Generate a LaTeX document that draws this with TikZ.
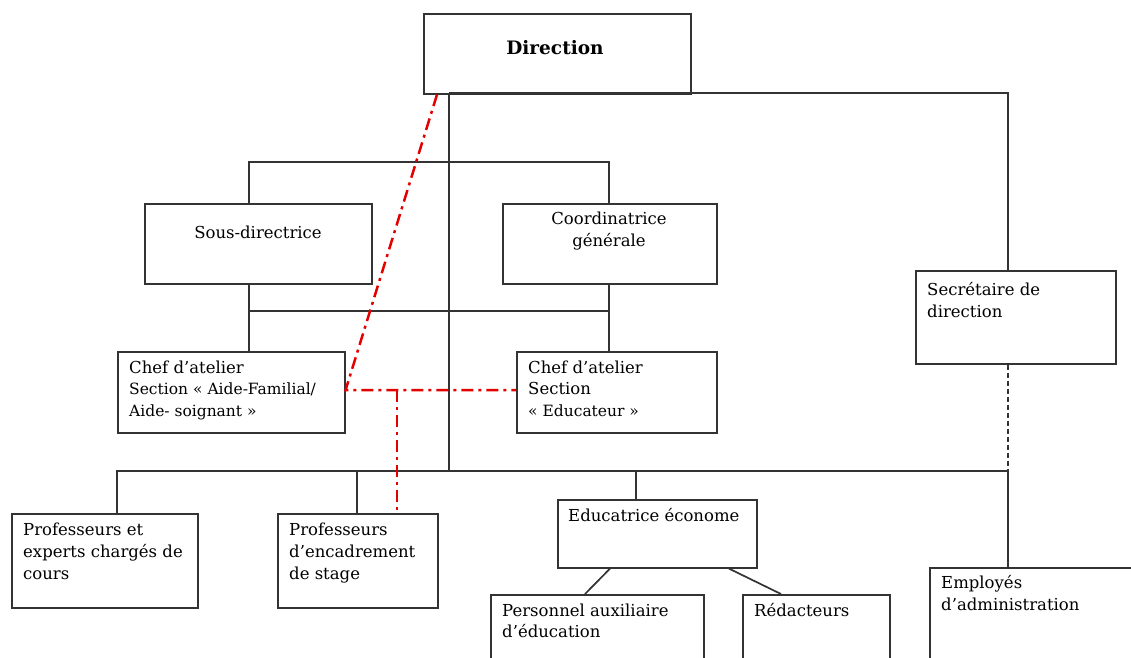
\documentclass[tikz,border=0pt]{standalone}
\usepackage{fontspec}
\setmainfont{DejaVu Serif}
\usetikzlibrary{calc}
\begin{document}
\begin{tikzpicture}[x=1pt,y=-1pt,
  box/.style={draw=black!80, line width=1.6pt, rectangle, inner sep=0pt, anchor=north west},
  link/.style={draw=black!80, line width=1.7pt},
  dlink/.style={draw=black!80, line width=1.4pt, dash pattern=on 5pt off 3pt},
  redlink/.style={draw=red!90!black, line width=2.5pt, dash pattern=on 12pt off 5pt on 3pt off 5pt},
  txt/.style={anchor=base west, inner sep=0pt, align=left, font=\fontsize{16.5}{22}\selectfont},
]
\useasboundingbox (0,0) rectangle (1131,657);
% boxes
\node[box, minimum width=267, minimum height=80] (dir) at (423,13) {};
\node[anchor=base, inner sep=0pt, font=\bfseries\fontsize{18.5}{22}\selectfont] (tdir) at (555,54) {Direction};
\node[box, minimum width=227, minimum height=80] (sous) at (144,203) {};
\node[box, minimum width=214, minimum height=80] (coord) at (502,203) {};
\node[box, minimum width=227, minimum height=81] (chefA) at (117,351) {};
\node[box, minimum width=200, minimum height=81] (chefE) at (516,351) {};
\node[box, minimum width=200, minimum height=93] (sec) at (915,270) {};
\node[box, minimum width=186, minimum height=94] (prof) at (11,513) {};
\node[box, minimum width=160, minimum height=94] (profS) at (277,513) {};
\node[box, minimum width=199, minimum height=68] (eco) at (557,499) {};
\node[box, minimum width=213, minimum height=80] (pers) at (490,594) {};
\node[box, minimum width=147, minimum height=80] (red) at (742,594) {};
\node[box, minimum width=220, minimum height=100] (emp) at (929,567) {};
% texts (anchored on the baseline of the last line)
\node[txt, anchor=base] (tsous) at (258,238) {Sous-directrice};
\node[txt, align=center, anchor=base] (tcoord) at (609,246) {Coordinatrice\\générale};
\node[txt] (tchefA) at (129,416) {Chef d’atelier\\[-0.5pt]{\fontsize{15.5}{21.5}\selectfont Section « Aide-Familial/}\\[-0.5pt]{\fontsize{15.5}{21.5}\selectfont Aide- soignant »}};
\node[txt] (tchefE) at (528,416) {Chef d’atelier\\[-0.5pt]Section\\[-0.5pt]{\fontsize{15.5}{21.5}\selectfont« Educateur »}};
\node[txt] (tsec) at (927,317) {Secrétaire de\\direction};
\node[txt] (tprof) at (23,579) {Professeurs et\\experts chargés de\\cours};
\node[txt] (tprofS) at (289,579) {Professeurs\\d’encadrement\\de stage};
\node[txt] (teco) at (568,521) {Educatrice économe};
\node[txt] (tpers) at (502,637) {Personnel auxiliaire\\[-1pt]d’éducation};
\node[txt] (tred) at (754,616) {Rédacteurs};
\node[txt] (temp) at (941,610) {Employés\\d’administration};
% coordinates
\coordinate (top) at (449,93);
\coordinate (hubA) at (449,162);
\coordinate (hubB) at (449,311);
\coordinate (bot) at (449,471);
\coordinate (xl) at (249,0);
\coordinate (xr) at (609,0);
\coordinate (xs) at (1008,0);
\coordinate (secbot) at (1008,471);
\coordinate (xp) at (117,0);
\coordinate (xq) at (357,0);
\coordinate (xe) at (636,0);
% connectors
\draw[link] (top) -- (bot);
\draw[link] (top) -| (sec.north -| xs);
\draw[link] (sous.north -| xl) |- (hubA) -| (coord.north -| xr);
\draw[link] (sous.south -| xl) -- (chefA.north -| xl);
\draw[link] (coord.south -| xr) -- (chefE.north -| xr);
\draw[link] (hubB -| xl) -- (hubB -| xr);
\draw[dlink] (sec.south -| xs) -- (secbot);
\draw[link] (prof.north -| xp) |- (secbot);
\draw[link] (secbot) -- (emp.north -| xs);
\draw[link] (profS.north -| xq) -- (bot -| xq);
\draw[link] (eco.north -| xe) -- (bot -| xe);
\draw[link] ($(eco.south west)+(53,0)$) -- ($(pers.north west)+(95,0)$);
\draw[link] ($(eco.south west)+(172,0)$) -- ($(red.north west)+(39,0)$);
% red dash-dot
\coordinate (rj) at (397,390);
\draw[redlink] ($(dir.south west)+(14,0)$) -- (chefA.east |- rj) -- (chefE.west |- rj);
\draw[redlink] (rj) -- (profS.north -| rj);
\end{tikzpicture}
\end{document}
